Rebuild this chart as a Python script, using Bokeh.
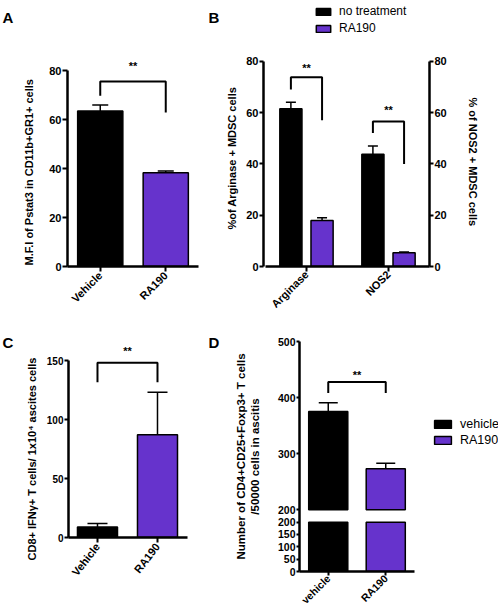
import numpy as np
from math import pi
from bokeh.plotting import figure
from bokeh.models import (ColumnDataSource, Range1d, FixedTicker, SingleIntervalTicker,
                          LinearAxis, Whisker, TeeHead, Label, Legend, LegendItem, Title)
from bokeh.layouts import row, column
from bokeh.embed import file_html
from bokeh.resources import INLINE

FONT = "Liberation Sans"
BLACK = "#000000"
PURPLE = "#6633CC"

# ---------------- data ----------------
a_cats = ["Vehicle", "RA190"]
a_vals = [63.5, 38.3]
a_err = [65.9, 39.0]
a_bracket = [69.7, 75.5, 62.9]
a_star = 83.0
a_ylabel = "M.F.I of Pstat3 in CD11b+GR1+ cells"

b_cats = ["Arginase", "NOS2"]
b_series = ["no treatment", "RA190"]
b_nt = [61.5, 43.8]
b_nt_err = [64.0, 47.0]
b_ra = [17.9, 5.4]
b_ra_err = [19.0, 5.7]
b_brackets = [[69.0, 73.8, 57.0], [52.0, 56.5, 40.0]]
b_stars = [78.6, 62.0]
b_ylabel_left = "%of Arginase + MDSC cells"
b_ylabel_right = "% of NOS2 + MDSC cells"

c_cats = ["Vehicle", "RA190"]
c_vals = [9.0, 87.0]
c_err = [11.8, 123.0]
c_bracket = [131.6, 148.0, 131.6]
c_star = 161.0
c_ylabel = "CD8+ IFN\u03b3+ T cells/ 1x10\u2074 ascites cells"

d_cats = ["vehicle", "RA190"]
d_vals = [375.0, 273.0]
d_err = [391.0, 283.0]
d_bracket = [408.0, 428.0, 408.0]
d_star = 446.0
d_break = 200
d_low_ticks = [0, 50, 100, 150, 200]
d_high_ticks = [200, 300, 400, 500]
d_ylabel = "Number of CD4+CD25+Foxp3+ T cells\n/50000 cells in ascitis"

panel_letters = ["A", "B", "C", "D"]

# ---------------- helpers ----------------
def make_fig(width, height, xr, yr, borders, **kw):
    l, r, t, b = borders
    p = figure(width=width, height=height, x_range=xr, y_range=yr,
               output_backend="svg", toolbar_location=None,
               min_border_left=l, min_border_right=r,
               min_border_top=t, min_border_bottom=b, **kw)
    p.grid.visible = False
    p.outline_line_color = None
    p.background_fill_color = "white"
    p.border_fill_color = "white"
    return p


def style_axis(ax, size="11px", standoff=1, tick_out=5):
    ax.axis_line_width = 2.5
    ax.axis_line_color = BLACK
    ax.major_tick_line_width = 2
    ax.major_tick_line_color = BLACK
    ax.major_tick_in = 0
    ax.major_tick_out = tick_out
    ax.minor_tick_line_color = None
    ax.major_label_text_font = FONT
    ax.major_label_text_font_style = "bold"
    ax.major_label_text_font_size = size
    ax.major_label_text_color = BLACK
    ax.major_label_standoff = standoff
    ax.axis_label_text_font = FONT
    ax.axis_label_text_font_style = "bold"
    ax.axis_label_text_font_size = "11px"
    ax.axis_label_text_color = BLACK


def cat_axis(p, cats, angle, size="11px", standoff=2, tick_out=5):
    ax = p.xaxis[0]
    pos = list(range(1, len(cats) + 1))
    ax.ticker = FixedTicker(ticks=pos)
    ax.major_label_overrides = {i: c for i, c in zip(pos, cats)}
    ax.major_label_orientation = angle
    ax.bounds = (0.5, len(cats) + 0.5)
    style_axis(ax, size=size, standoff=standoff, tick_out=tick_out)


def bars(p, x, vals, errs, colors, width, cap, bottom=0):
    src = ColumnDataSource(dict(x=list(x), top=list(vals), err=list(errs), color=list(colors)))
    r = p.vbar(x="x", top="top", bottom=bottom, width=width, source=src,
               fill_color="color", line_color=BLACK, line_width=1.5)
    p.add_layout(Whisker(source=src, base="x", lower="top", upper="err",
                         lower_head=None,
                         upper_head=TeeHead(size=cap, line_width=1.5, line_color=BLACK),
                         line_width=1.5, line_color=BLACK))
    return r


def bracket(p, x1, x2, levels, star):
    p.line(x=[x1, x1, x2, x2], y=[levels[0], levels[1], levels[1], levels[2]],
           line_width=2, line_color=BLACK)
    p.add_layout(Label(x=(x1 + x2) / 2, y=star, text="**", text_align="center",
                       text_baseline="middle", y_offset=-3, text_font=FONT,
                       text_font_style="bold", text_font_size="11px", text_color=BLACK))


def set_letter(p, text, offset, standoff):
    t = p.title
    t.text = text
    t.align = "left"
    t.offset = offset
    t.standoff = standoff
    t.vertical_align = "bottom"
    t.text_font = FONT
    t.text_font_style = "bold"
    t.text_font_size = "15px"
    t.text_color = BLACK


def side_caption(p, text, side, offset, standoff):
    t = Title(text=text, align="left", offset=offset, standoff=standoff,
              vertical_align="bottom", text_font=FONT, text_font_style="bold",
              text_font_size="11px", text_color=BLACK)
    p.add_layout(t, side)


def make_legend(items, loc, gw, gh, fs, spacing):
    return Legend(items=items, location=loc, glyph_width=gw, glyph_height=gh,
                  label_text_font=FONT, label_text_font_size=fs, label_text_color=BLACK,
                  label_standoff=7, label_height=gh, spacing=spacing, padding=0, margin=0,
                  border_line_color=None, background_fill_alpha=0)

# ---------------- panel A ----------------
A_PX = 2.45  # px per unit
A_H, A_T, A_B = 317, 27, 51
pA = make_fig(205, A_H, Range1d(0.5, 2.5), Range1d(0, (A_H - A_T - A_B) / A_PX), (67, 7, A_T, A_B))
style_axis(pA.yaxis[0], tick_out=5, standoff=1)
pA.yaxis[0].ticker = SingleIntervalTicker(interval=20, num_minor_ticks=0)
pA.yaxis[0].bounds = (0, 80)
side_caption(pA, a_ylabel, "left", 1, 24)
cat_axis(pA, a_cats, pi / 4)
ax_a = np.arange(1, len(a_cats) + 1)
bars(pA, ax_a, a_vals, a_err, [BLACK, PURPLE], 0.69, 16)
bracket(pA, ax_a[0], ax_a[1], a_bracket, a_star)
set_letter(pA, panel_letters[0], -65, 4)

# ---------------- panel B ----------------
B_PX = 2.575
B_H, B_T, B_B = 317, 3, 50
pB = make_fig(293, B_H, Range1d(0.476, 2.5), Range1d(0, (B_H - B_T - B_B) / B_PX), (58, 69, B_T, B_B))
style_axis(pB.yaxis[0], tick_out=4, standoff=1)
pB.yaxis[0].ticker = SingleIntervalTicker(interval=20, num_minor_ticks=0)
pB.yaxis[0].bounds = (0, 80)
rax = LinearAxis(bounds=(0, 80))
style_axis(rax, tick_out=4, standoff=1)
rax.ticker = SingleIntervalTicker(interval=20, num_minor_ticks=0)
pB.add_layout(rax, "right")
side_caption(pB, b_ylabel_left, "left", 37, 12)
side_caption(pB, b_ylabel_right, "right", 94, 34)
cat_axis(pB, b_cats, pi / 4, standoff=1)
bx = np.arange(1, len(b_cats) + 1)
off = 0.19
r_nt = bars(pB, bx - off, b_nt, b_nt_err, [BLACK] * 2, 0.27, 10)
r_ra = bars(pB, bx + off, b_ra, b_ra_err, [PURPLE] * 2, 0.27, 10)
for i in range(len(b_cats)):
    bracket(pB, bx[i] - off, bx[i] + off, b_brackets[i], b_stars[i])
lgB = make_legend([LegendItem(label=b_series[0], renderers=[r_nt]),
                   LegendItem(label=b_series[1], renderers=[r_ra])],
                  (51, 231), 18, 9, "12px", 3)
pB.add_layout(lgB)
set_letter(pB, panel_letters[1], -55, -44)

# ---------------- panel C ----------------
C_PX = 1.18
C_H, C_T, C_B = 296, 24, 76
pC = make_fig(205, C_H, Range1d(0.517, 2.65), Range1d(0, (C_H - C_T - C_B) / C_PX), (68, 9, C_T, C_B))
style_axis(pC.yaxis[0], size="10px", tick_out=4, standoff=1)
pC.yaxis[0].ticker = SingleIntervalTicker(interval=50, num_minor_ticks=0)
pC.yaxis[0].bounds = (0, 150)
side_caption(pC, c_ylabel, "left", -23, 12)
cat_axis(pC, c_cats, 0.907)
cx = np.arange(1, len(c_cats) + 1)
bars(pC, cx, c_vals, c_err, [BLACK, PURPLE], 0.667, 20)
bracket(pC, cx[0], cx[1], c_bracket, c_star)
set_letter(pC, panel_letters[2], -66, -18)

# ---------------- panel D (broken axis) ----------------
D_XPX = 57.5
D_H, D_L, D_T, D_B = 296, 94, 24, 41
main_lo = 90
low_pos = [int(main_lo + t * 22 / 50) for t in d_low_ticks]
low_end = (d_high_ticks[-1] - main_lo) * 50 / 22
pD = make_fig(293, D_H, Range1d(0.5, 0.5 + (293 - D_L) / D_XPX),
              Range1d(main_lo, d_high_ticks[-1]), (D_L, 0, D_T, D_B))
pD.extra_y_ranges = {"low": Range1d(0, low_end)}
ya = pD.yaxis[0]
style_axis(ya, size="10.5px", tick_out=3, standoff=1)
ya.ticker = FixedTicker(ticks=low_pos + d_high_ticks)
ov = {p_: str(t) for p_, t in zip(low_pos, d_low_ticks)}
ov.update({t: str(t) for t in d_high_ticks})
ya.major_label_overrides = ov
ya.bounds = (main_lo, d_high_ticks[-1])
ya.axis_label = d_ylabel
ya.axis_label_standoff = 14
ya.axis_label_text_font_size = "11.5px"
cat_axis(pD, d_cats, pi / 4, size="10.5px", standoff=1, tick_out=4)
dx = np.arange(1, len(d_cats) + 1)
r_d = bars(pD, dx, d_vals, d_err, [BLACK, PURPLE], 0.68, 19, bottom=d_break)
pD.vbar(x=dx, top=np.minimum(np.array(d_vals), d_break), bottom=0, width=0.68,
        fill_color=[BLACK, PURPLE], line_color=BLACK, line_width=1.5, y_range_name="low")
bracket(pD, dx[0], dx[1], d_bracket, d_star)
lgD = make_legend([LegendItem(label=d_cats[0], renderers=[r_d], index=0),
                   LegendItem(label=d_cats[1], renderers=[r_d], index=1)],
                  (133, 124), 21, 10, "12.5px", 2)
pD.add_layout(lgD)
set_letter(pD, panel_letters[3], -91, -18)

layout = column(row(column(pA), column(pB)), row(column(pC), column(pD)))
open("out.html", "w").write(file_html(layout, INLINE))
